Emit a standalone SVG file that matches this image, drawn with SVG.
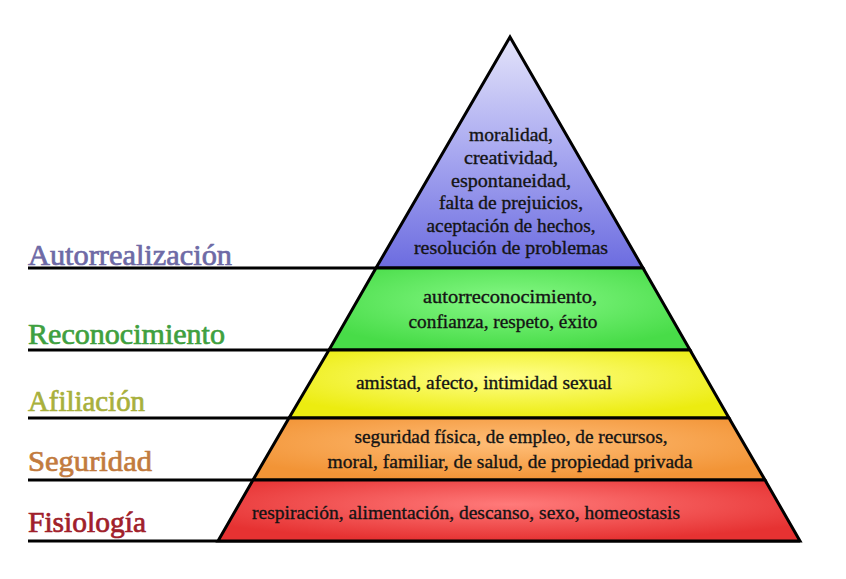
<svg xmlns="http://www.w3.org/2000/svg" width="846" height="579" viewBox="0 0 846 579">
<defs>
<linearGradient id="gPurple" x1="0" y1="0" x2="0" y2="1">
<stop offset="0" stop-color="#e4e4fa"/>
<stop offset="0.5" stop-color="#a8a8f0"/>
<stop offset="1" stop-color="#6c6ce0"/>
</linearGradient>
<radialGradient id="gGreen" cx="0.5" cy="0.4" r="0.6">
<stop offset="0" stop-color="#86f886"/>
<stop offset="1" stop-color="#48dc48"/>
</radialGradient>
<radialGradient id="gYellow" cx="0.5" cy="0.4" r="0.6">
<stop offset="0" stop-color="#ffff8a"/>
<stop offset="1" stop-color="#ecec10"/>
</radialGradient>
<radialGradient id="gOrange" cx="0.5" cy="0.4" r="0.6">
<stop offset="0" stop-color="#ffbe78"/>
<stop offset="1" stop-color="#f29436"/>
</radialGradient>
<radialGradient id="gRed" cx="0.5" cy="0.4" r="0.6">
<stop offset="0" stop-color="#ff7a7a"/>
<stop offset="1" stop-color="#e63232"/>
</radialGradient>
</defs>
<style>
.layer{stroke:#000;stroke-width:3;stroke-linejoin:miter}
.t{font-family:"Liberation Serif","DejaVu Serif",serif;font-size:19px;fill:#141414;stroke:#141414;stroke-width:0.35;text-anchor:middle}
.lab{font-family:"Liberation Serif","DejaVu Serif",serif;font-size:30px;stroke-width:0.7}
.ln{stroke:#000;stroke-width:3;fill:none}
</style>
<rect width="846" height="579" fill="#fff"/>
<g id="connectors">
<line class="ln" x1="28" y1="268" x2="376" y2="268"/>
<line class="ln" x1="28" y1="350" x2="329" y2="350"/>
<line class="ln" x1="28" y1="418" x2="289" y2="418"/>
<line class="ln" x1="28" y1="480" x2="253" y2="480"/>
<line class="ln" x1="28" y1="541" x2="800" y2="541"/>
</g>
<g id="autorrealizacion">
<polygon class="layer" fill="url(#gPurple)" points="510,37 643,268 376,268"/>
<text class="t" x="511" y="141" textLength="84" lengthAdjust="spacingAndGlyphs">moralidad,</text>
<text class="t" x="511" y="164" textLength="94" lengthAdjust="spacingAndGlyphs">creatividad,</text>
<text class="t" x="511" y="187" textLength="120" lengthAdjust="spacingAndGlyphs">espontaneidad,</text>
<text class="t" x="511" y="209" textLength="144" lengthAdjust="spacingAndGlyphs">falta de prejuicios,</text>
<text class="t" x="511" y="232" textLength="169" lengthAdjust="spacingAndGlyphs">aceptación de hechos,</text>
<text class="t" x="511" y="254" textLength="194" lengthAdjust="spacingAndGlyphs">resolución de problemas</text>
</g>
<g id="reconocimiento">
<polygon class="layer" fill="url(#gGreen)" points="376,268 643,268 690,350 329,350"/>
<text class="t" x="510" y="303" textLength="174" lengthAdjust="spacingAndGlyphs">autorreconocimiento,</text>
<text class="t" x="503" y="328" textLength="189" lengthAdjust="spacingAndGlyphs">confianza, respeto, éxito</text>
</g>
<g id="afiliacion">
<polygon class="layer" fill="url(#gYellow)" points="329,350 690,350 729,418 289,418"/>
<text class="t" x="484" y="389" textLength="256" lengthAdjust="spacingAndGlyphs">amistad, afecto, intimidad sexual</text>
</g>
<g id="seguridad">
<polygon class="layer" fill="url(#gOrange)" points="289,418 729,418 765,480 253,480"/>
<text class="t" x="511" y="443" textLength="313" lengthAdjust="spacingAndGlyphs">seguridad física, de empleo, de recursos,</text>
<text class="t" x="510" y="468" textLength="365" lengthAdjust="spacingAndGlyphs">moral, familiar, de salud, de propiedad privada</text>
</g>
<g id="fisiologia">
<polygon class="layer" fill="url(#gRed)" points="253,480 765,480 800,541 218,541"/>
<text class="t" x="466" y="519" textLength="428" lengthAdjust="spacingAndGlyphs">respiración, alimentación, descanso, sexo, homeostasis</text>
</g>
<g id="labels">
<text class="lab" x="28" y="265" fill="#6e6aa6" stroke="#6e6aa6" textLength="204" lengthAdjust="spacingAndGlyphs">Autorrealización</text>
<text class="lab" x="28" y="344" fill="#3fa03f" stroke="#3fa03f" textLength="197" lengthAdjust="spacingAndGlyphs">Reconocimiento</text>
<text class="lab" x="28" y="411" fill="#a8b03c" stroke="#a8b03c" textLength="117" lengthAdjust="spacingAndGlyphs">Afiliación</text>
<text class="lab" x="28" y="471" fill="#c27b3e" stroke="#c27b3e" textLength="124" lengthAdjust="spacingAndGlyphs">Seguridad</text>
<text class="lab" x="28" y="532" fill="#a0202a" stroke="#a0202a" textLength="118" lengthAdjust="spacingAndGlyphs">Fisiología</text>
</g>
</svg>
